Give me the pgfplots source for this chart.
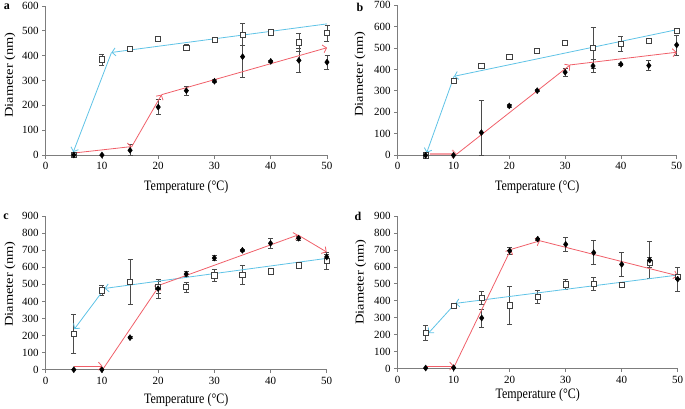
\documentclass[border=0pt]{standalone}
\usepackage{fontspec}
\setmainfont{Liberation Serif}
\usepackage{pgfplots}
\pgfplotsset{compat=1.18}
\usetikzlibrary{arrows.meta}

\definecolor{cblue}{RGB}{95,195,230}
\definecolor{cred}{RGB}{240,95,105}
\definecolor{axgray}{RGB}{125,125,125}
\definecolor{ebar}{RGB}{75,75,75}

\newcommand{\xlab}{\scalebox{1}[1.2]{Temperature (°C)}}
\newcommand{\ylab}{\scalebox{1.2}[1]{Diameter (nm)}}

\pgfplotsset{
  panel/.style={
    scale only axis, xmin=0, xmax=50, ymin=0,
    axis x line*=bottom, axis y line*=left,
    axis line style={axgray, line width=0.8pt},
    tick align=outside, major tick length=3.5pt,
    tick style={axgray, line width=0.8pt},
    xtick={0,10,...,50},
    clip=false,
    /pgf/number format/assume math mode=true,
    tick label style={font=\fontsize{11}{13}\selectfont},
    label style={font=\fontsize{12}{14}\selectfont},
    xlabel={\xlab}, ylabel={\ylab},
  },
  ebars/.style={error bars/.cd, y dir=both, y explicit,
    error bar style={ebar, line width=0.7pt},
    error mark options={ebar, rotate=90, mark size=2.5pt, line width=0.7pt}},
  sq/.style={only marks, mark=square*, mark size=2.6pt,
    mark options={draw=black!75, fill=white, line width=0.7pt}, ebars},
  dm/.style={only marks, mark=diamond*, mark size=3pt,
    mark options={draw=black, fill=black}, ebars},
  arr/.style={line width=0.8pt, -{Straight Barb[length=3.5pt,width=8pt]}},
}

\begin{document}
\begin{tikzpicture}
\useasboundingbox (0,0) rectangle (685pt,-408pt);

% panel a
\begin{axis}[panel, width=281.3pt, height=149pt, at={(45.7pt,-155pt)}, anchor=south west,
  ymax=600, ytick={0,100,...,600},
  xlabel style={at={(axis description cs:0.5,-0.215)}, anchor=center},
  ylabel style={at={(axis description cs:-0.127,0.537)}, anchor=center}]
\addplot[sq] coordinates {(5,0) +- (0,3) (10,385) +- (0,22) (15,428) +- (0,5) (20,468) +- (0,5)
  (25,432) +- (0,12) (30,463) +- (0,6) (35,485) +- (0,45) (40,494) +- (0,6) (45,454) +- (0,37) (50,491) +- (0,32)};
\addplot[dm] coordinates {(5,0) +- (0,0) (10,0) +- (0,0) (15,19) +- (0,22) (20,193) +- (0,30)
  (25,259) +- (0,18) (30,297) +- (0,6) (35,396) +- (0,85) (40,377) +- (0,5) (45,381) +- (0,47) (50,374) +- (0,29)};
\addplot[cblue, arr] coordinates {(50,528) (11.7,413)};
\addplot[cblue, arr] coordinates {(11.7,413) (4.9,12)};
\addplot[cred, arr] coordinates {(5,8) (15.3,34)};
\addplot[cred, arr] coordinates {(15.3,34) (20.6,243)};
\addplot[cred, arr] coordinates {(20.6,243) (50,432)};
\end{axis}

% panel b
\begin{axis}[panel, width=279pt, height=150.3pt, at={(397.7pt,-155.3pt)}, anchor=south west,
  ymax=700, ytick={0,100,...,700},
  xlabel style={at={(axis description cs:0.5,-0.209)}, anchor=center},
  ylabel style={at={(axis description cs:-0.135,0.54)}, anchor=center}]
\addplot[sq] coordinates {(5,0) +- (0,3) (10,346) +- (0,8) (15,418) +- (0,5) (20,460) +- (0,5)
  (25,488) +- (0,5) (30,523) +- (0,5) (35,500) +- (0,95) (40,519) +- (0,35) (45,533) +- (0,6) (50,578) +- (0,6)};
\addplot[dm] coordinates {(5,0) +- (0,0) (10,0) +- (0,0) (15,106) += (0,152) -= (0,106) (20,230) +- (0,5)
  (25,301) +- (0,5) (30,387) +- (0,18) (35,416) +- (0,30) (40,424) +- (0,5) (45,418) +- (0,23) (50,514) +- (0,47)};
\addplot[cblue, arr] coordinates {(50,585) (10.1,368)};
\addplot[cblue, arr] coordinates {(10.1,368) (5.2,12)};
\addplot[cred, arr, line width=1.6pt, cred!60] coordinates {(5.8,6) (10.6,6)};
\addplot[cred, arr] coordinates {(10.5,4) (30.9,421)};
\addplot[cred, arr] coordinates {(30.9,421) (50,480)};
\end{axis}

% panel c
\begin{axis}[panel, width=281pt, height=153.7pt, at={(45.7pt,-369.7pt)}, anchor=south west,
  ymax=900, ytick={0,100,...,900},
  xlabel style={at={(axis description cs:0.5,-0.197)}, anchor=center},
  ylabel style={at={(axis description cs:-0.127,0.557)}, anchor=center}]
\addplot[sq] coordinates {(5,211) +- (0,115) (10,465) +- (0,27) (15,514) +- (0,134) (20,485) +- (0,35)
  (25,483) +- (0,28) (30,553) +- (0,36) (35,557) +- (0,55) (40,576) +- (0,5) (45,611) +- (0,8) (50,637) +- (0,50)};
\addplot[dm] coordinates {(5,0) +- (0,0) (10,0) +- (0,0) (15,188) +- (0,5) (20,475) +- (0,55)
  (25,560) +- (0,15) (30,654) +- (0,15) (35,699) +- (0,5) (40,740) +- (0,28) (45,770) +- (0,10) (50,660) +- (0,15)};
\addplot[cblue, arr] coordinates {(50,652) (10.5,476)};
\addplot[cblue, arr] coordinates {(10.5,476) (5.1,238)};
\addplot[cred, arr] coordinates {(5,21) (10.1,21)};
\addplot[cred, arr] coordinates {(10.2,4) (20.3,496)};
\addplot[cred, arr] coordinates {(20.3,496) (44.9,789)};
\addplot[cred, arr] coordinates {(44.9,789) (50,689)};
\end{axis}

% panel d
\begin{axis}[panel, width=280pt, height=152.7pt, at={(397.7pt,-368.7pt)}, anchor=south west,
  ymax=900, ytick={0,100,...,900},
  xlabel style={at={(axis description cs:0.5,-0.17)}, anchor=center},
  ylabel style={at={(axis description cs:-0.132,0.568)}, anchor=center}]
\addplot[sq] coordinates {(5,210) +- (0,45) (10,371) +- (0,8) (15,418) +- (0,38) (20,373) +- (0,111)
  (25,422) +- (0,37) (30,497) +- (0,31) (35,499) +- (0,40) (40,493) +- (0,6) (45,625) +- (0,30) (50,542) +- (0,12)};
\addplot[dm] coordinates {(5,4) +- (0,0) (10,6) +- (0,0) (15,299) +- (0,53) (20,695) +- (0,20)
  (25,764) +- (0,5) (30,733) +- (0,43) (35,684) +- (0,70) (40,615) +- (0,69) (45,640) +- (0,110) (50,528) +- (0,72)};
\addplot[cblue, arr] coordinates {(50,552) (10.3,385)};
\addplot[cblue, arr] coordinates {(10.3,385) (5.5,210)};
\addplot[cred, arr] coordinates {(5,16) (10,16)};
\addplot[cred, arr] coordinates {(10,6) (20.2,703)};
\addplot[cred, arr] coordinates {(20.2,703) (25.4,754)};
\addplot[cred, arr] coordinates {(25.4,754) (50,548)};
\end{axis}

\node[font=\bfseries\fontsize{12}{14}\selectfont] at (7pt,-7pt) {a};
\node[font=\bfseries\fontsize{12}{14}\selectfont] at (360pt,-7pt) {b};
\node[font=\bfseries\fontsize{12}{14}\selectfont] at (6pt,-217pt) {c};
\node[font=\bfseries\fontsize{12}{14}\selectfont] at (358pt,-216pt) {d};
\end{tikzpicture}
\end{document}
